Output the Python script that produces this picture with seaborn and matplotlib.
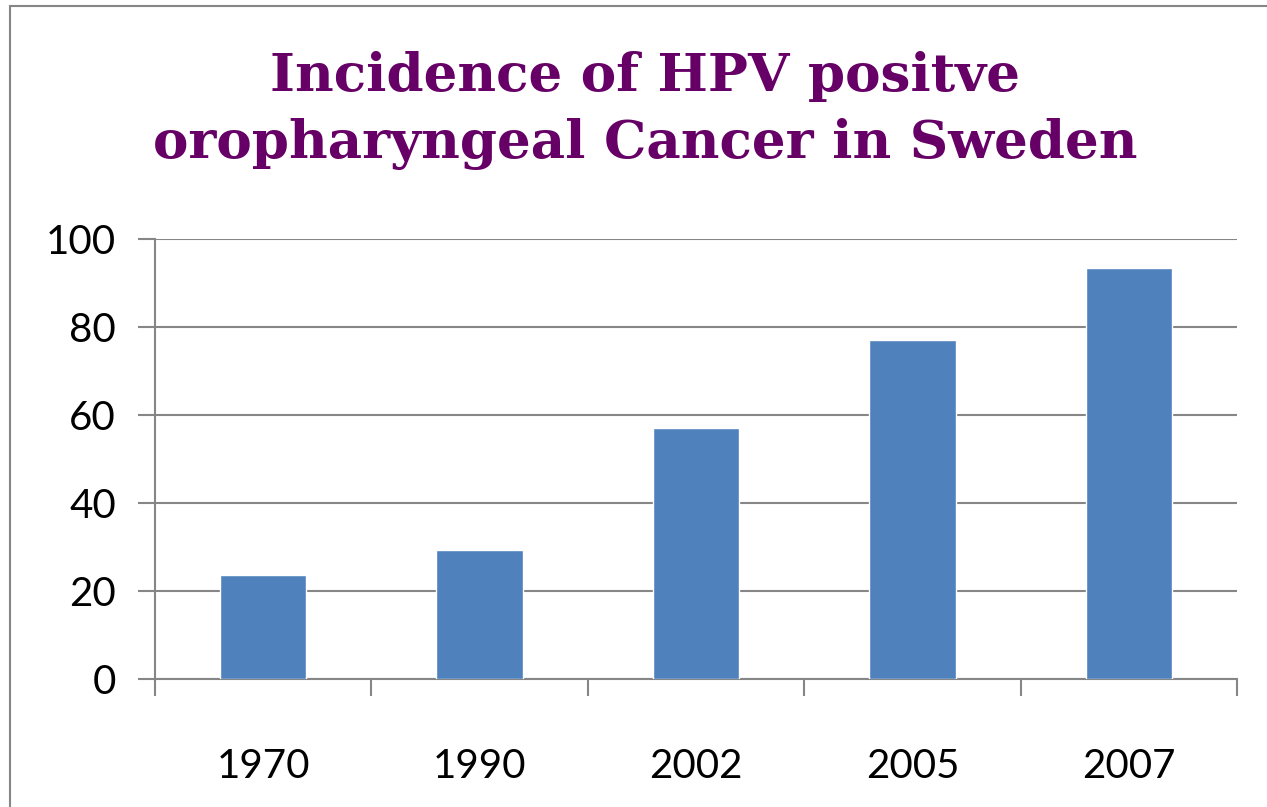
import matplotlib
matplotlib.use("Agg")
import matplotlib.pyplot as plt
import numpy as np
import pandas as pd
import seaborn as sns
from matplotlib.patches import Rectangle

# values
years = ["1970", "1990", "2002", "2005", "2007"]
incidence = [23.6, 29.3, 57.0, 77.0, 93.4]
y_ticks = [0, 20, 40, 60, 80, 100]
title_text = "Incidence of HPV positve\noropharyngeal Cancer in Sweden"

df = pd.DataFrame({"year": years, "incidence": incidence})

sns.set_style("white")
plt.rcParams["font.family"] = ["Lato", "DejaVu Sans"]

grey = "#868686"
fig = plt.figure(figsize=(12.67, 8.07), dpi=100)
ax = fig.add_axes([155 / 1267, 1 - 679 / 807, (1237 - 155) / 1267, (679 - 239) / 807])

sns.barplot(data=df, x="year", y="incidence", color="#4F81BD", saturation=1,
            width=0.4, ax=ax, zorder=3)
for p in ax.patches:
    p.set_edgecolor("white")
    p.set_linewidth(1)

ax.set_xlim(-0.5, len(years) - 0.5)
ax.set_ylim(0, 100)
ax.set_yticks(y_ticks)
ax.set_xlabel("")
ax.set_ylabel("")

# category boundary tick marks (Excel style)
ax.set_xticks(np.arange(-0.5, len(years)), minor=True)
ax.tick_params(axis="x", which="minor", bottom=True, length=12, width=1.5,
               color=grey, direction="out")
ax.tick_params(axis="x", which="major", bottom=True, length=0, pad=50,
               labelsize=29, labelcolor="black")
ax.tick_params(axis="y", left=True, length=12, width=1.5, color=grey,
               direction="out", pad=16, labelsize=29, labelcolor="black")

ax.grid(axis="y", color=grey, linewidth=1.5, zorder=0)
ax.set_axisbelow(True)
for side in ["top", "right"]:
    ax.spines[side].set_visible(False)
for side in ["left", "bottom"]:
    ax.spines[side].set_color(grey)
    ax.spines[side].set_linewidth(1.5)

fig.text(0.509, 1 - 111 / 807, title_text, ha="center", va="center",
         family="DejaVu Serif", fontweight="bold", fontsize=38.3,
         color="#660066", linespacing=1.4)

# outer chart border
fig.patches.append(Rectangle((10 / 1267, -0.1), 1.2, 1 - 6 / 807 + 0.1,
                             transform=fig.transFigure, fill=False,
                             edgecolor=grey, linewidth=1.5))

fig.savefig("out.png", dpi=100)
